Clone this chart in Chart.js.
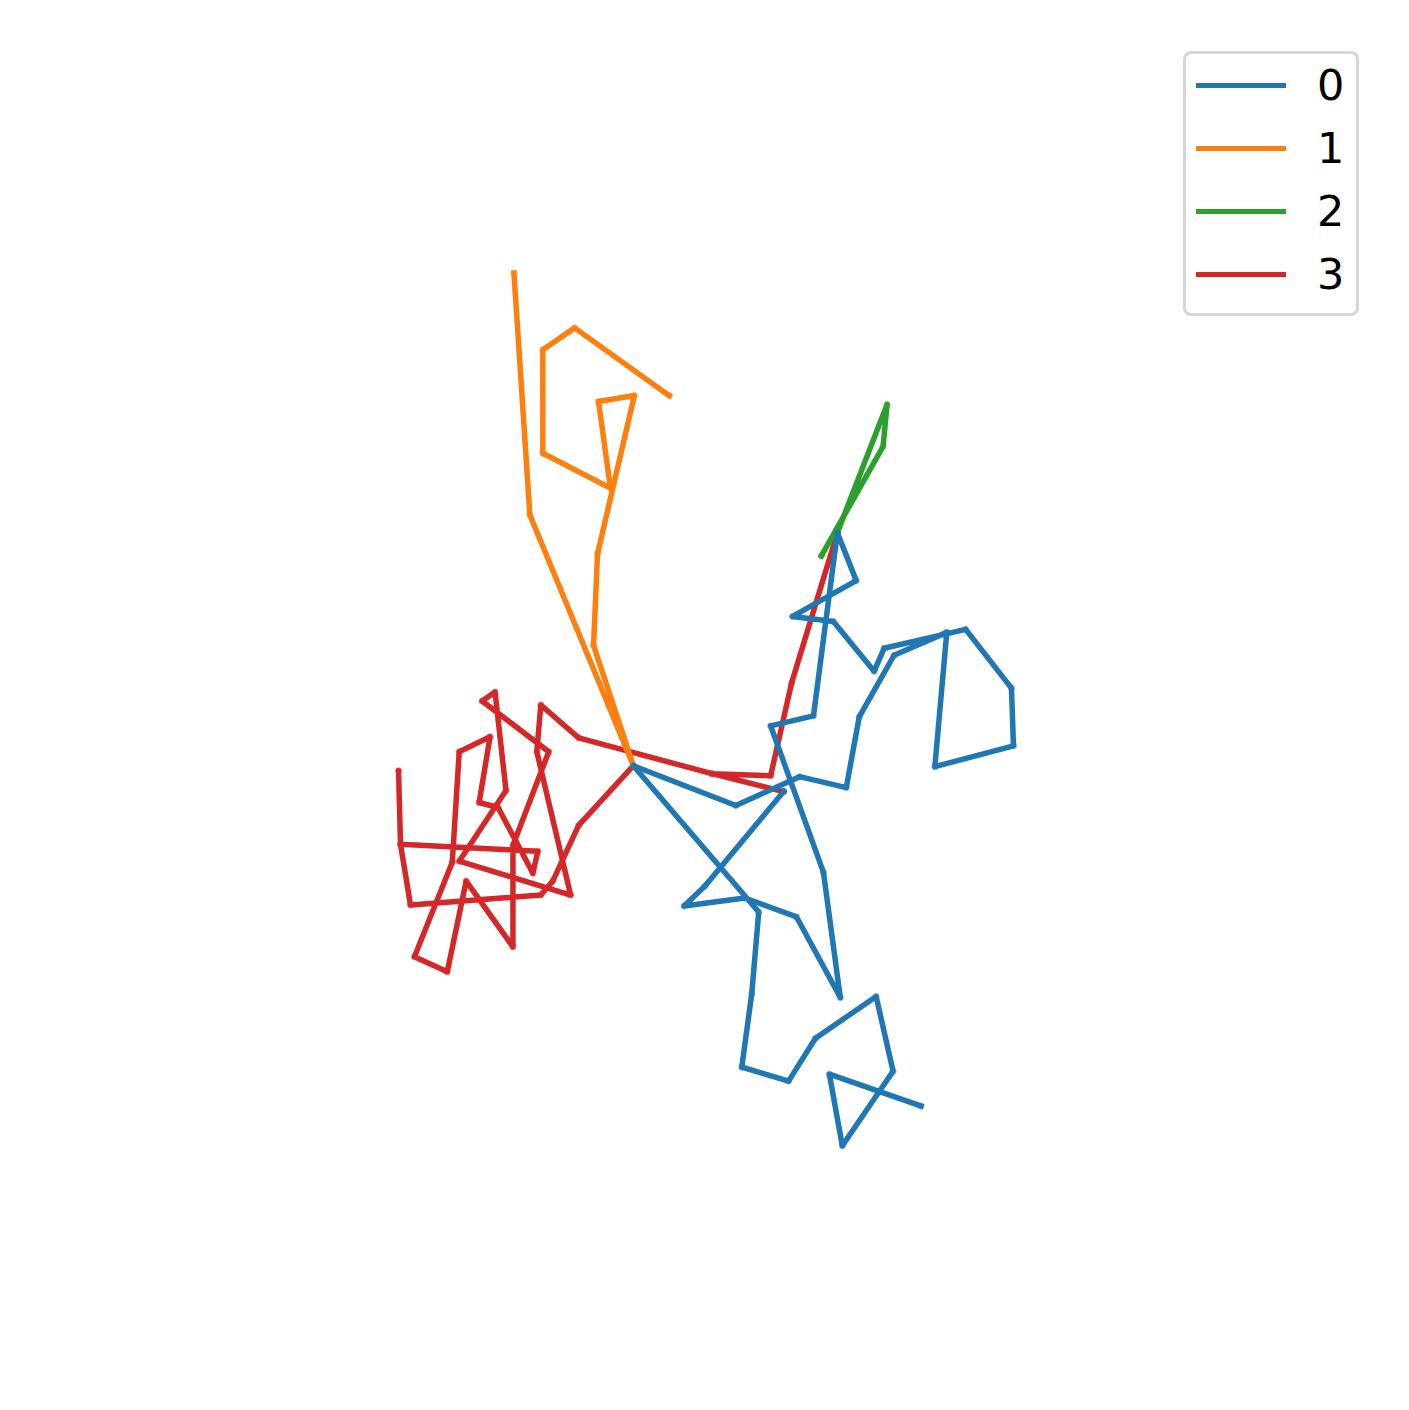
<!DOCTYPE html>
<html>
<head>
<meta charset="utf-8">
<script src="https://cdn.jsdelivr.net/npm/chart.js@4"></script>
<style>
    body { margin: 0; background: #fff; }
    #wrap { position: relative; width: 1409px; height: 1410px; }
    #legend {
        position: absolute; left: 1183px; top: 51px; width: 170px; height: 259px;
        border: 3px solid #d6d6d6; border-radius: 8px; background: #fff;
        font-family: "DejaVu Sans", sans-serif; font-size: 43px; color: #000;
    }
    .row { display: flex; align-items: center; height: 63px; }
    .row .swatch { width: 90px; height: 5px; margin-left: 10px; }
    .row span { margin-left: 31px; line-height: 63px; }
</style>
</head>
<body>
<div id="wrap">
    <canvas id="myChart"></canvas>
    <div id="legend"></div>
</div>
<script>
// series names and colours
const labels = ['0', '1', '2', '3'];
const colors = ['#1f77b4', '#ff7f0e', '#2ca02c', '#d62728'];

// walk 0 (blue)
const x0 = [1.51, 0.72, 0.51, 1.12, 1.64, 2.08, 1.91, 1.38, 1.81, 2.05, 2.24, 1.60, 2.01, 2.42, 2.52, 3.34, 3.80, 3.82,
    3.03, 3.15, 2.62, 2.27, 2.14, 1.67, 1.03, 0, 1.26, 1.19, 1.09, 1.56, 1.83, 2.44, 2.61, 2.10, 1.97, 2.89];
const y0 = [-0.26, -1.21, -1.41, -1.33, -1.52, -2.33, -1.07, 0.40, 0.50, 2.34, 1.86, 1.50, 1.45, 0.95, 1.18, 1.37, 0.78, 0.20,
    -0.01, 1.34, 1.11, 0.49, -0.22, -0.11, -0.40, 0, -1.47, -2.29, -3.03, -3.17, -2.74, -2.32, -3.07, -3.82, -3.10, -3.42];

// walk 1 (orange)
const x1 = [-1.20, -1.04, 0, -0.40, -0.36, 0.01, -0.35, -0.23, -0.91, -0.91, -0.59, 0.36];
const y1 = [4.95, 2.52, 0, 1.21, 2.13, 3.72, 3.66, 2.79, 3.14, 4.18, 4.40, 3.72];

// walk 2 (green)
const x2 = [2.05, 2.55, 2.51, 1.89];
const y2 = [2.34, 3.63, 3.21, 2.11];

// walk 3 (red)
const x3 = [0, -0.55, -0.81, -0.93, -2.24, -2.34, -2.36, -2.34, -0.96, -1.01, -1.36, -1.55, -1.44, -1.75, -1.82, -2.20,
    -1.87, -1.68, -1.21, -1.21, -0.85, -1.52, -1.39, -1.28, -1.75, -0.63, -0.97, -0.93, -0.55, 0.79, 1.51, 0.79,
    1.38, 1.59, 2.05];
const y3 = [0, -0.60, -1.16, -1.30, -1.40, -0.79, -0.05, -0.79, -0.86, -1.08, -0.42, -0.37, 0.29, 0.14, -0.97, -1.92,
    -2.07, -1.16, -1.82, -0.80, 0.14, 0.65, 0.74, -0.25, -0.96, -1.30, 0.14, 0.61, 0.28, -0.08, -0.26, -0.08,
    -0.10, 0.83, 2.34];

// visible window of the (hidden) axes
const xRange = [-6.33, 7.76];
const yRange = [-6.44, 7.66];

function toPoints(xs, ys) {
    var pts = [];
    for (let i = 0; i < xs.length; i++) {
        pts.push({ x: xs[i], y: ys[i] });
    }
    return pts;
}

function fade(hex, a) {
    var r = parseInt(hex.slice(1, 3), 16);
    var g = parseInt(hex.slice(3, 5), 16);
    var b = parseInt(hex.slice(5, 7), 16);
    return 'rgba(' + r + ', ' + g + ', ' + b + ', ' + a + ')';
}

const walks = [[x0, y0], [x1, y1], [x2, y2], [x3, y3]];
const datasets = [];
for (let i = 0; i < walks.length; i++) {
    datasets.push({
        label: labels[i],
        data: toPoints(walks[i][0], walks[i][1]),
        borderColor: colors[i],
        backgroundColor: colors[i],
        borderWidth: 5.5,
        borderJoinStyle: 'round',
        borderCapStyle: 'square',
        pointRadius: 3.5,
        pointBorderWidth: 0,
        pointBackgroundColor: fade(colors[i], 0.45),
        pointHoverRadius: 3.5,
        fill: false,
        tension: 0
    });
}

const ctx = document.getElementById('myChart');
const myChart = new Chart(ctx, {
    type: 'line',
    data: { datasets: datasets },
    options: {
        responsive: true,
        maintainAspectRatio: false,
        animation: false,
        layout: { padding: 0 },
        plugins: {
            legend: { display: false },
            tooltip: { enabled: false }
        },
        scales: {
            x: { type: 'linear', display: false, min: xRange[0], max: xRange[1] },
            y: { type: 'linear', display: false, min: yRange[0], max: yRange[1] }
        }
    }
});

// legend box built from the datasets
const legendBox = document.getElementById('legend');
myChart.data.datasets.forEach(function (ds) {
    var row = document.createElement('div');
    row.classList.add('row');
    var sw = document.createElement('div');
    sw.classList.add('swatch');
    sw.style.background = ds.borderColor;
    var txt = document.createElement('span');
    txt.textContent = ds.label;
    row.appendChild(sw);
    row.appendChild(txt);
    legendBox.appendChild(row);
});
</script>
</body>
</html>
